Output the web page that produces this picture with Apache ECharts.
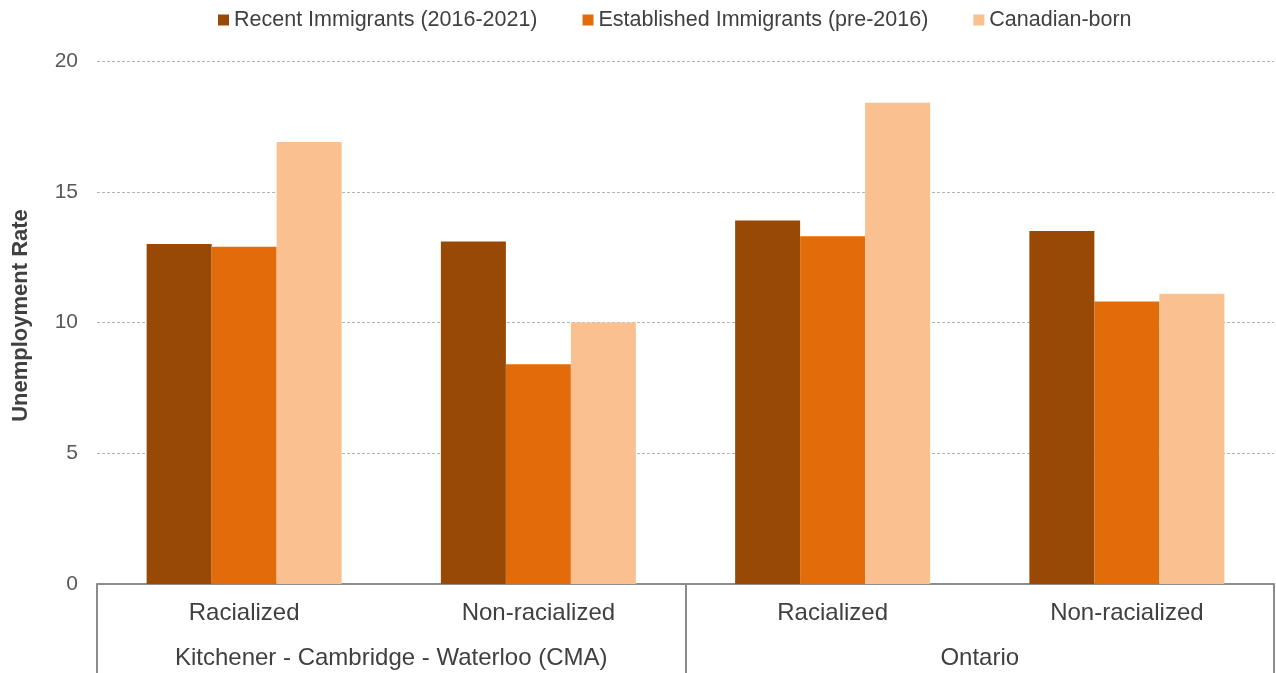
<!DOCTYPE html>
<html>
<head>
<meta charset="utf-8">
<script src="https://cdn.jsdelivr.net/npm/echarts@6/dist/echarts.min.js"></script>
<style>
  html, body { margin: 0; padding: 0; background: #ffffff; }
  #chart { width: 1276px; height: 673px; }
</style>
</head>
<body>
<div id="chart"></div>
<script>
// Unemployment rate by immigrant status, racialized vs non-racialized
const subgroups = ['Racialized', 'Non-racialized', 'Racialized', 'Non-racialized'];
const regions = ['Kitchener - Cambridge - Waterloo (CMA)', 'Ontario'];
const seriesNames = ['Recent Immigrants (2016-2021)', 'Established Immigrants (pre-2016)', 'Canadian-born'];
const recentImmigrants = [13.0, 13.1, 13.9, 13.5];
const establishedImmigrants = [12.9, 8.4, 13.3, 10.8];
const canadianBorn = [16.9, 10.0, 18.4, 11.1];
const yTicks = [0, 5, 10, 15, 20];

const colors = ['#994906', '#E36C0A', '#FAC090'];
const FONT = '"Liberation Sans", Arial, sans-serif';
const AXIS_GREY = '#8c8c8c';

const chart = echarts.init(document.getElementById('chart'), null, { renderer: 'canvas' });

const values = [recentImmigrants, establishedImmigrants, canadianBorn];

chart.setOption({
  animation: false,
  textStyle: { fontFamily: FONT },
  legend: {
    top: 4,
    left: 213,
    itemWidth: 11,
    itemHeight: 11,
    itemGap: 45,
    icon: 'rect',
    textStyle: { fontSize: 21.5, color: '#404040', fontFamily: FONT },
    data: seriesNames
  },
  grid: { left: 97, right: 2, top: 61, bottom: 89, containLabel: false, outerBoundsMode: 'none' },
  xAxis: [
    {
      type: 'category',
      data: subgroups,
      position: 'bottom',
      axisLine: { show: true, lineStyle: { color: AXIS_GREY, width: 2 } },
      axisTick: { show: false },
      axisLabel: { margin: 17, fontSize: 24, color: '#404040', fontFamily: FONT, interval: 0 },
      splitLine: { show: false }
    },
    {
      type: 'category',
      data: regions,
      position: 'bottom',
      axisLine: { show: false },
      axisTick: { show: true, length: 92, lineStyle: { color: AXIS_GREY, width: 2 } },
      axisLabel: { margin: 62, fontSize: 24, color: '#404040', fontFamily: FONT, interval: 0 },
      splitLine: { show: false }
    }
  ],
  yAxis: {
    type: 'value',
    min: yTicks[0],
    max: yTicks[yTicks.length - 1],
    interval: yTicks[1] - yTicks[0],
    name: 'Unemployment Rate',
    nameLocation: 'middle',
    nameRotate: 90,
    nameGap: 65,
    nameTextStyle: { fontSize: 22, fontWeight: 'bold', color: '#404040', fontFamily: FONT, padding: [0, 0, 0, 14] },
    axisLine: { show: false },
    axisTick: { show: false },
    axisLabel: { margin: 19, fontSize: 21, color: '#595959', fontFamily: FONT },
    splitLine: { show: true, lineStyle: { color: '#b4b4b4', width: 1, type: [3, 2] } }
  },
  series: seriesNames.map((name, i) => ({
    name: name,
    type: 'bar',
    xAxisIndex: 0,
    data: values[i],
    barWidth: 65,
    barGap: '0%',
    itemStyle: { color: colors[i] },
    emphasis: { disabled: true }
  }))
});
</script>
</body>
</html>
